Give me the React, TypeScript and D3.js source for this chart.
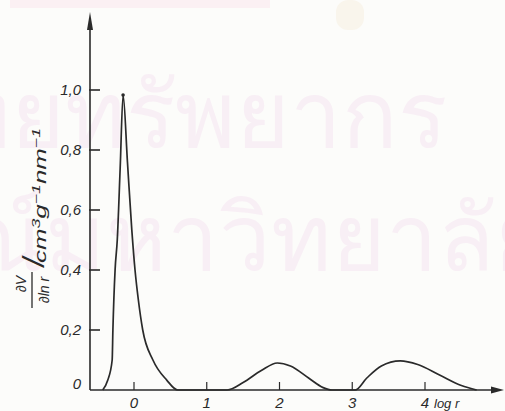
import React from 'react';
import * as d3 from 'd3';

// pore size distribution
const logR = [-0.43, -0.36, -0.3, -0.29, -0.26, -0.23, -0.19, -0.15, -0.09, -0.03, 0.014, 0.06, 0.12, 0.26, 0.45, 0.6,
  1.28, 1.5, 1.75, 1.97, 2.15, 2.4, 2.6, 2.72, 3.04, 3.2, 3.4, 3.66, 3.9, 4.2, 4.5, 4.71];
const dV = [0, 0.033, 0.1, 0.2, 0.4, 0.5, 0.74, 0.983, 0.76, 0.533, 0.4, 0.3, 0.2, 0.1, 0.033, 0,
  0, 0.025, 0.065, 0.09, 0.08, 0.04, 0.008, 0, 0, 0.04, 0.08, 0.097, 0.085, 0.05, 0.015, 0];

const xTicks = [0, 1, 2, 3, 4];
const yTicks = [0, 0.2, 0.4, 0.6, 0.8, 1.0];
const yTickLabels = ['0', '0,2', '0,4', '0,6', '0,8', '1,0'];
const xTitle = 'log r';
const watermark = ['ทยทรัพยากร', 'รณ์มหาวิทยาลัย'];

const ink = '#2a2a2a';
const font = '"Liberation Sans", Arial, sans-serif';

export default function App() {
  const width = 505;
  const height = 411;
  const x = d3.scaleLinear().domain([0, 4]).range([134, 425]);
  const y = d3.scaleLinear().domain([0, 1]).range([390, 90]);
  const x0 = 90;
  const xEnd = 503;
  const peak = dV.indexOf(d3.max(dV) as number);

  const line = d3
    .line<number>()
    .x((d, i) => x(logR[i]))
    .y(d => y(d))
    .curve(d3.curveMonotoneX);

  return (
    <svg width={width} height={height} style={{ position: 'absolute', left: 0, top: 0, background: '#fcfcfa' }}>
      {/* faint watermark of the scan */}
      <rect x={10} y={0} width={260} height={8} fill="#fbf0f3" />
      <rect x={336} y={0} width={28} height={30} rx={12} fill="#f9f5ec" />
      <g fill="#f8eff5" fontFamily='"Noto Sans", "DejaVu Sans", sans-serif' fontSize={92}>
        <text x={447} y={147} textAnchor="end">{watermark[0]}</text>
        <text x={548} y={270} textAnchor="end">{watermark[1]}</text>
      </g>

      {/* axes */}
      <g stroke={ink} strokeWidth={1.6} fill="none">
        <line x1={x0} x2={x0} y1={y(0)} y2={18} />
        <line x1={x0} x2={xEnd - 6} y1={y(0)} y2={y(0)} />
        {yTicks.filter(t => t > 0).map(t => (
          <line key={t} x1={x0 - 1} x2={x0 + 10} y1={y(t)} y2={y(t)} />
        ))}
        {xTicks.map(t => (
          <line key={t} x1={x(t)} x2={x(t)} y1={y(0) - 8} y2={y(0)} strokeWidth={1.2} />
        ))}
      </g>
      <path d={`M${x0},12 L${x0 - 3},30 L${x0 + 3},30 Z`} fill={ink} />
      <path d={`M${xEnd + 1},${y(0)} L${xEnd - 12},${y(0) - 3.5} L${xEnd - 12},${y(0) + 3.5} Z`} fill={ink} />

      {/* curve */}
      <path d={line(dV) || ''} fill="none" stroke={ink} strokeWidth={1.7} strokeLinejoin="round" />
      <circle cx={x(logR[peak])} cy={y(dV[peak])} r={1.8} fill={ink} />

      {/* tick labels */}
      <g fontFamily={font} fontStyle="italic" fontSize={15} fill={ink}>
        {yTicks.map((t, i) => (
          <text key={t} x={81} y={y(t) + (t === 0 ? -1 : 5)} textAnchor="end">{yTickLabels[i]}</text>
        ))}
        {xTicks.map(t => (
          <text key={t} x={x(t)} y={408} textAnchor="middle">{t}</text>
        ))}
        <text x={x(4) + 9} y={408} fontSize={13}>{xTitle}</text>
      </g>

      {/* y title: dV/dln r / cm3 g-1 nm-1 */}
      <g transform="rotate(-90)" fontFamily={font} fontStyle="italic" fill={ink}>
        <text x={-284} y={26} fontSize={14} textAnchor="middle">∂V</text>
        <line x1={-308} x2={-272} y1={32} y2={32} stroke={ink} strokeWidth={1.3} />
        <text x={-290} y={49} fontSize={14} textAnchor="middle">∂ln r</text>
        <text x={-262} y={44} fontSize={30} textAnchor="middle">/</text>
        <text x={-263} y={46} fontSize={16} textLength={135} lengthAdjust="spacingAndGlyphs">
          cm<tspan dy={-6} fontSize={11}>3</tspan>
          <tspan dy={6}>g</tspan><tspan dy={-6} fontSize={11}>−1</tspan>
          <tspan dy={6}>nm</tspan><tspan dy={-6} fontSize={11}>−1</tspan>
        </text>
      </g>
    </svg>
  );
}
